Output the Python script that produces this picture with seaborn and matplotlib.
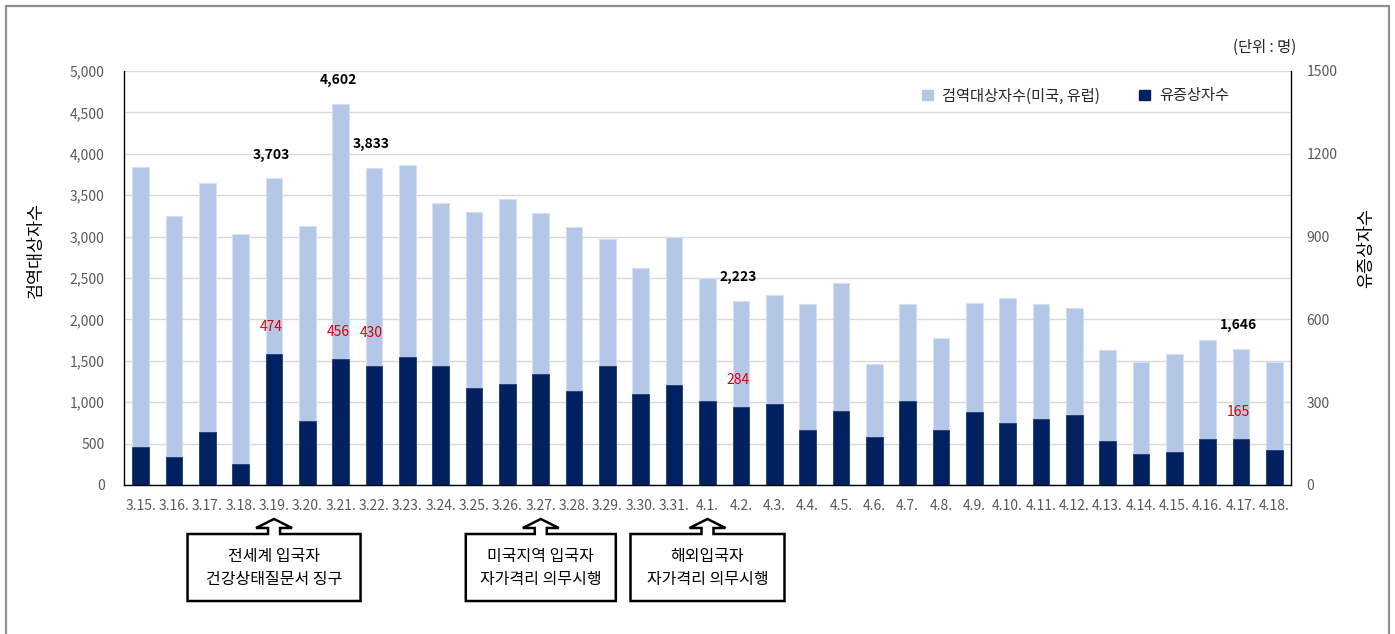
import matplotlib
matplotlib.use("Agg")
import matplotlib.pyplot as plt
import matplotlib.ticker as mticker
from matplotlib.patches import Polygon
from matplotlib.lines import Line2D
import seaborn as sns
import pandas as pd

# data
dates = ["3.15.", "3.16.", "3.17.", "3.18.", "3.19.", "3.20.", "3.21.", "3.22.", "3.23.",
         "3.24.", "3.25.", "3.26.", "3.27.", "3.28.", "3.29.", "3.30.", "3.31.",
         "4.1.", "4.2.", "4.3.", "4.4.", "4.5.", "4.6.", "4.7.", "4.8.", "4.9.", "4.10.",
         "4.11.", "4.12.", "4.13.", "4.14.", "4.15.", "4.16.", "4.17.", "4.18."]
quarantine = [3840, 3250, 3650, 3030, 3703, 3130, 4602, 3833, 3860,
              3400, 3300, 3450, 3280, 3110, 2970, 2620, 3000,
              2500, 2223, 2290, 2190, 2440, 1460, 2190, 1780, 2200, 2255,
              2190, 2140, 1625, 1480, 1580, 1750, 1646, 1480]
symptomatic = [136, 103, 191, 75, 474, 231, 456, 430, 465,
               431, 352, 367, 403, 340, 431, 330, 363,
               305, 284, 292, 199, 267, 175, 303, 200, 263, 225,
               240, 254, 158, 112, 120, 165, 165, 126]
labelled_days = ["3.19.", "3.21.", "3.22.", "4.2.", "4.17."]
callout_days = ["3.19.", "3.27.", "4.1."]
callout_texts = ["전세계 입국자\n건강상태질문서 징구",
                 "미국지역 입국자\n자가격리 의무시행",
                 "해외입국자\n자가격리 의무시행"]

light = "#b4c7e7"
dark = "#002060"
red = "#e00000"
tick_col = "#595959"

sns.set_style("white")
plt.rcParams["font.family"] = ["Noto Sans CJK KR", "DejaVu Sans"]

df = pd.DataFrame({"date": dates, "quarantine": quarantine, "symptomatic": symptomatic})

W, H = 1395, 634
fig = plt.figure(figsize=(W / 100, H / 100), dpi=100)
fig.patch.set_facecolor("white")
ax = fig.add_axes([124 / W, 1 - 485 / H, 1167 / W, 414 / H])

sns.barplot(data=df, x="date", y="quarantine", color=light, width=0.5, saturation=1,
            edgecolor="#d6e0f2", linewidth=0.8, ax=ax)
ax.set_xlim(-0.5, len(dates) - 0.5)
ax.set_ylim(0, 5000)
ax.yaxis.set_major_locator(mticker.MultipleLocator(500))
ax.yaxis.set_major_formatter(mticker.FuncFormatter(lambda v, p: f"{int(v):,}"))
ax.yaxis.grid(True, color="#d9d9d9", lw=1)
ax.set_axisbelow(True)
ax.set_xlabel("")
ax.set_ylabel("검역대상자수", fontsize=12.5, color="black")
ax.yaxis.set_label_coords(-0.068, 0.568)
ax.tick_params(axis="y", length=0, pad=14, labelsize=10, labelcolor=tick_col)
ax.tick_params(axis="x", length=0, pad=10, labelsize=10, labelcolor=tick_col)
for s in ["top", "right"]:
    ax.spines[s].set_visible(False)
for s in ["left", "bottom"]:
    ax.spines[s].set_color("black")
    ax.spines[s].set_linewidth(1)

ax2 = ax.twinx()
sns.barplot(data=df, x="date", y="symptomatic", color=dark, width=0.5, saturation=1,
            edgecolor="#1f3f7a", linewidth=0.6, ax=ax2)
ax2.set_xlim(-0.5, len(dates) - 0.5)
ax2.set_ylim(0, 1500)
ax2.yaxis.set_major_locator(mticker.MultipleLocator(300))
ax2.set_ylabel("유증상자수", fontsize=12.5, color="black", rotation=90)
ax2.yaxis.set_label_coords(1.057, 0.572)
ax2.tick_params(axis="y", length=0, pad=11, labelsize=10, labelcolor=tick_col)
for s in ["top", "left", "bottom"]:
    ax2.spines[s].set_visible(False)
ax2.spines["right"].set_color("black")
ax2.spines["right"].set_linewidth(1)

# value labels
for d in labelled_days:
    i = dates.index(d)
    ax2.annotate(f"{quarantine[i]:,}", xy=(i, quarantine[i] * 1500 / 5000), xytext=(-2, 17),
                 textcoords="offset points", ha="center", va="center",
                 fontsize=10, fontweight="bold", color="black")
    dy = 24 if d == "3.22." else 19.5
    ax2.annotate(f"{symptomatic[i]:,}", xy=(i, symptomatic[i]), xytext=(-2, dy),
                 textcoords="offset points", ha="center", va="center",
                 fontsize=10, color=red)

# legend
handles = [plt.Rectangle((0, 0), 1, 1, color=light), plt.Rectangle((0, 0), 1, 1, color=dark)]
ax2.legend(handles, ["검역대상자수(미국, 유럽)", "유증상자수"], loc="center left",
           bbox_to_anchor=(0.672, 0.94), ncol=2, frameon=False, fontsize=11,
           handlelength=0.7, handleheight=0.7, handletextpad=0.6, columnspacing=2.6)

fig.text(1296 / W, 1 - 47 / H, "(단위 : 명)", ha="right", va="center", fontsize=11, color="#262626")

# outer frame
fc = "#8f8f8f"
fig.add_artist(Line2D([6 / W, 6 / W], [0, 1 - 6 / H], color=fc, lw=1.6))
fig.add_artist(Line2D([6 / W, 1389 / W], [1 - 6 / H, 1 - 6 / H], color=fc, lw=1.6))
fig.add_artist(Line2D([1389 / W, 1389 / W], [0, 1 - 6 / H], color=fc, lw=1.6))

# callouts with upward block arrows
box_widths = [173, 150, 154]
fig.canvas.draw()
for d, txt, bw in zip(callout_days, callout_texts, box_widths):
    tip = ax.transData.transform((dates.index(d), 0))[0]
    top, hb, bt, bb = 519, 528, 534, 601
    pts = [(tip - bw / 2, bb), (tip - bw / 2, bt), (tip - 6, bt), (tip - 6, hb),
           (tip - 18, hb), (tip, top), (tip + 18, hb), (tip + 6, hb), (tip + 6, bt),
           (tip + bw / 2, bt), (tip + bw / 2, bb)]
    pts = [(x / W, 1 - y / H) for x, y in pts]
    fig.add_artist(Polygon(pts, closed=True, facecolor="white", edgecolor="black",
                           lw=1.8, transform=fig.transFigure))
    fig.text(tip / W, 1 - 568 / H, txt, ha="center", va="center", fontsize=11.5,
             linespacing=1.4, color="black")

fig.savefig("out.png", dpi=100)
